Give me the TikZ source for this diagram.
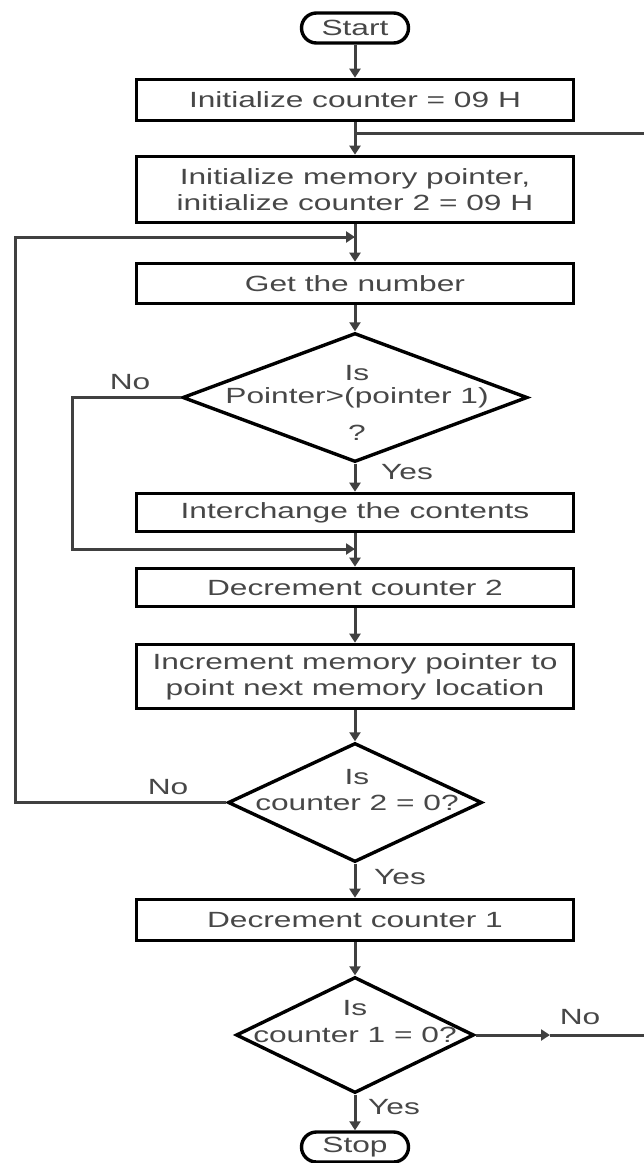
\documentclass[tikz,border=0pt]{standalone}
\usepackage{fontspec}
\setmainfont{Liberation Sans}[FakeStretch=1.44]
\usetikzlibrary{arrows.meta,shapes.geometric}
\begin{document}
\begin{tikzpicture}[x=1pt,y=-1pt,
  every node/.style={font=\fontsize{22}{26}\selectfont, text=black!72},
  procbox/.style={draw=black, line width=3.6pt, rectangle, minimum width=437pt, inner sep=0pt, align=center},
  term/.style={draw=black, line width=3.4pt, rounded corners=15pt, minimum width=107pt, minimum height=30pt, inner sep=0pt},
  decision/.style={draw=black, line width=3.4pt, diamond, inner sep=0pt},
  conn/.style={draw=black!75, line width=3pt},
  flow/.style={conn, -{Triangle[length=9pt,width=11pt]}},
  lbl/.style={inner sep=0pt}
]
\useasboundingbox (0,0) rectangle (644,1163);

% terminals
\node[term] (start) at (355,28) {Start};
\node[term] (stop) at (355,1147) {Stop};

% process boxes
\node[procbox, minimum height=41pt] (b1) at (355,100) {Initialize counter = 09 H};
\node[procbox, minimum height=66pt] (b2) at (355,189.5) {Initialize memory pointer,\\initialize counter 2 = 09 H};
\node[procbox, minimum height=40pt] (b3) at (355,283.5) {Get the number};
\node[procbox, minimum height=38pt] (b4) at (355,512.5) {Interchange the contents};
\node[procbox, minimum height=38pt] (b5) at (355,587.5) {Decrement counter 2};
\node[procbox, minimum height=64pt] (b6) at (355,676.5) {Increment memory pointer to\\point next memory location};
\node[procbox, minimum height=41pt] (b7) at (355,920) {Decrement counter 1};

% decisions
\node[decision, minimum width=345pt, minimum height=129pt] (d1) at (355,397.5) {};
\node[lbl] (d1a) at (357,373) {Is};
\node[lbl] (d1b) at (357,398) {Pointer>(pointer 1)};
\node[lbl] (d1c) at (357,433) {?};

\node[decision, minimum width=254pt, minimum height=119pt] (d2) at (355,802.5) {};
\node[lbl] (d2a) at (357,777) {Is};
\node[lbl] (d2b) at (357,803) {counter 2 = 0?};

\node[decision, minimum width=238pt, minimum height=116pt] (d3) at (355,1035) {};
\node[lbl] (d3a) at (355,1008) {Is};
\node[lbl] (d3b) at (355,1035) {counter 1 = 0?};

% branch labels
\node[lbl] (no1) at (130,382) {No};
\node[lbl] (yes1) at (407,472) {Yes};
\node[lbl] (no2) at (168,787) {No};
\node[lbl] (yes2) at (400,877) {Yes};
\node[lbl] (no3) at (580,1017) {No};
\node[lbl] (yes3) at (394,1107) {Yes};

% junction points
\coordinate (j0) at (355,133);
\coordinate (r1) at (644,133);
\coordinate (j2) at (355,237);
\coordinate (l2) at (15,802.5);
\coordinate (j1) at (355,549);
\coordinate (l1) at (72,397.5);
\coordinate (r3a) at (550,1035);
\coordinate (r3b) at (644,1035);

% main column
\draw[flow] (start.south) -- (b1.north);
\draw[flow] (b1.south) -- (b2.north);
\draw[flow] (b2.south) -- (b3.north);
\draw[flow] (b3.south) -- (d1.north);
\draw[flow] (d1.south) -- (b4.north);
\draw[flow] (b4.south) -- (b5.north);
\draw[flow] (b5.south) -- (b6.north);
\draw[flow] (b6.south) -- (d2.north);
\draw[flow] (d2.south) -- (b7.north);
\draw[flow] (b7.south) -- (d3.north);
\draw[flow] (d3.south) -- (stop.north);

% return paths
\draw[conn] (r1) -- (j0);
\draw[flow] (d1.west) -- (l1) |- (j1);
\draw[flow] (d2.west) -- (l2) |- (j2);
\draw[flow] (d3.east) -- (r3a);
\draw[conn] (r3a) -- (r3b);
\end{tikzpicture}
\end{document}
